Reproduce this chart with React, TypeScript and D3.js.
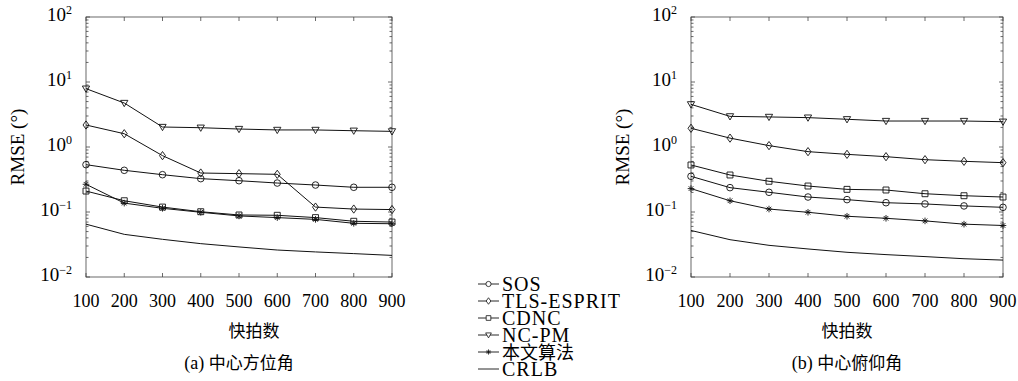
import * as d3 from "d3";
import { useRef, useEffect } from "react";

const snapshots = [100, 200, 300, 400, 500, 600, 700, 800, 900];
const seriesNames = ["SOS", "TLS-ESPRIT", "CDNC", "NC-PM", "本文算法", "CRLB"];
const markers = ["circle", "diamond", "square", "triangle", "star", "none"];

// (a) 中心方位角
const sosA = [0.535, 0.438, 0.375, 0.326, 0.303, 0.279, 0.26, 0.24, 0.24];
const tlsA = [2.18, 1.6, 0.736, 0.398, 0.389, 0.38, 0.119, 0.111, 0.109];
const cdncA = [0.21, 0.149, 0.119, 0.101, 0.09, 0.089, 0.082, 0.072, 0.07];
const ncpmA = [7.9, 4.75, 2.03, 1.98, 1.89, 1.83, 1.83, 1.78, 1.74];
const oursA = [0.267, 0.137, 0.114, 0.099, 0.087, 0.082, 0.077, 0.067, 0.066];
const crlbA = [0.065, 0.0453, 0.038, 0.0326, 0.029, 0.026, 0.0243, 0.0229, 0.0215];

// (b) 中心俯仰角
const sosB = [0.354, 0.237, 0.201, 0.17, 0.155, 0.139, 0.133, 0.124, 0.118];
const tlsB = [1.94, 1.37, 1.05, 0.848, 0.771, 0.71, 0.638, 0.602, 0.574];
const cdncB = [0.529, 0.371, 0.297, 0.251, 0.223, 0.218, 0.191, 0.178, 0.17];
const ncpmB = [4.53, 2.96, 2.9, 2.83, 2.67, 2.51, 2.51, 2.51, 2.45];
const oursB = [0.229, 0.149, 0.111, 0.099, 0.086, 0.08, 0.073, 0.065, 0.062];
const crlbB = [0.052, 0.0375, 0.0307, 0.027, 0.024, 0.0221, 0.0206, 0.0191, 0.0182];

const yDecades = [-2, -1, 0, 1, 2];
const serif = (size, extra = {}) => ({ fontFamily: '"Liberation Serif"', fontSize: size, ...extra });
const cjk = (size) => ({ fontFamily: '"Noto Sans CJK SC"', fontSize: size });

function markerPath(kind, s) {
  switch (kind) {
    case "circle":
      return d3.symbol(d3.symbolCircle, Math.PI * s * s)();
    case "square":
      return d3.symbol(d3.symbolSquare, (s * 1.8) ** 2)();
    case "diamond":
      return `M0,${-s * 1.25}L${s * 0.9},0L0,${s * 1.25}L${-s * 0.9},0Z`;
    case "triangle":
      return `M${-s * 1.1},${-s * 0.8}L${s * 1.1},${-s * 0.8}L0,${s * 1.1}Z`;
    case "star":
      return `M${-s},0L${s},0M0,${-s}L0,${s}M${-s * 0.7},${-s * 0.7}L${s * 0.7},${s * 0.7}M${-s * 0.7},${s * 0.7}L${s * 0.7},${-s * 0.7}`;
    default:
      return "";
  }
}

function Panel({ data, left, right, top = 17, bottom = 277, caption, ylabelX, xlabelX }) {
  const gRef = useRef(null);
  const x = d3.scaleLinear([100, 900], [left, right]);
  const y = d3.scaleLog([0.01, 100], [bottom, top]);

  useEffect(() => {
    const g = d3.select(gRef.current);
    g.selectAll("*").remove();
    const ax = g.append("g").attr("stroke", "#444").attr("stroke-width", 0.8);
    // x ticks, inward, top and bottom
    snapshots.forEach((v) => {
      ax.append("line").attr("x1", x(v)).attr("x2", x(v)).attr("y1", bottom).attr("y2", bottom - 4);
      ax.append("line").attr("x1", x(v)).attr("x2", x(v)).attr("y1", top).attr("y2", top + 4);
    });
    // y ticks, log minors
    y.ticks().forEach((v) => {
      const major = Math.abs(Math.log10(v) - Math.round(Math.log10(v))) < 1e-9;
      const len = major ? 4 : 2.5;
      ax.append("line").attr("x1", left).attr("x2", left + len).attr("y1", y(v)).attr("y2", y(v));
      ax.append("line").attr("x1", right).attr("x2", right - len).attr("y1", y(v)).attr("y2", y(v));
    });
    ax.append("rect").attr("x", left).attr("y", top).attr("width", right - left).attr("height", bottom - top).attr("fill", "none");

    const line = d3.line((d, i) => x(snapshots[i]), (d) => y(d));
    data.forEach((vals, k) => {
      g.append("path").attr("d", line(vals)).attr("fill", "none").attr("stroke", "#111").attr("stroke-width", 1);
      if (markers[k] !== "none") {
        vals.forEach((v, i) => {
          g.append("path")
            .attr("d", markerPath(markers[k], 3.3))
            .attr("transform", `translate(${x(snapshots[i])},${y(v)})`)
            .attr("fill", "none")
            .attr("stroke", "#111")
            .attr("stroke-width", 0.9);
        });
      }
    });
  }, [data, left, right]);

  return (
    <g>
      <g ref={gRef} />
      {snapshots.map((v) => (
        <text key={v} x={x(v)} y={307} textAnchor="middle" style={serif(18)}>{v}</text>
      ))}
      {yDecades.map((p) => (
        <text key={p} x={left - 14} y={y(10 ** p) + 4} textAnchor="end" style={serif(19)}>
          10<tspan dy={-7} style={serif(12)}>{p < 0 ? "−" + -p : p}</tspan>
        </text>
      ))}
      <text transform={`translate(${ylabelX},${(top + bottom) / 2}) rotate(-90)`} textAnchor="middle" style={serif(19)}>
        RMSE (°)
      </text>
      <text x={xlabelX} y={337} textAnchor="middle" style={cjk(17)}>快拍数</text>
      <text x={(left + right) / 2} y={369} textAnchor="middle">
        <tspan style={serif(18)}>{caption[0]}</tspan>
        <tspan style={cjk(17)}>{caption[1]}</tspan>
      </text>
    </g>
  );
}

function Legend({ x0, y0, step }) {
  return (
    <g>
      {seriesNames.map((name, k) => {
        const yy = y0 + k * step;
        const isCjk = /[\u4e00-\u9fff]/.test(name);
        return (
          <g key={name}>
            <line x1={x0} x2={x0 + 21} y1={yy} y2={yy} stroke="#111" strokeWidth={0.9} />
            {markers[k] !== "none" && (
              <path d={markerPath(markers[k], 2.6)} transform={`translate(${x0 + 10.5},${yy})`} fill="#fff" stroke="#111" strokeWidth={0.8} />
            )}
            <text x={x0 + 24} y={yy + 6.5} style={isCjk ? cjk(18) : serif(20, { letterSpacing: 1 })}>{name}</text>
          </g>
        );
      })}
    </g>
  );
}

export default function App() {
  return (
    <svg width={1018} height={381} style={{ position: "absolute", left: 0, top: 0, background: "#fff" }}>
      <rect width={1018} height={381} fill="#fff" />
      <Panel data={[sosA, tlsA, cdncA, ncpmA, oursA, crlbA]} left={86} right={392} caption={["(a) ", "中心方位角"]} ylabelX={24} xlabelX={254} />
      <Panel data={[sosB, tlsB, cdncB, ncpmB, oursB, crlbB]} left={691} right={1003} caption={["(b) ", "中心俯仰角"]} ylabelX={629} xlabelX={847} />
      <Legend x0={478} y0={284} step={17} />
    </svg>
  );
}
